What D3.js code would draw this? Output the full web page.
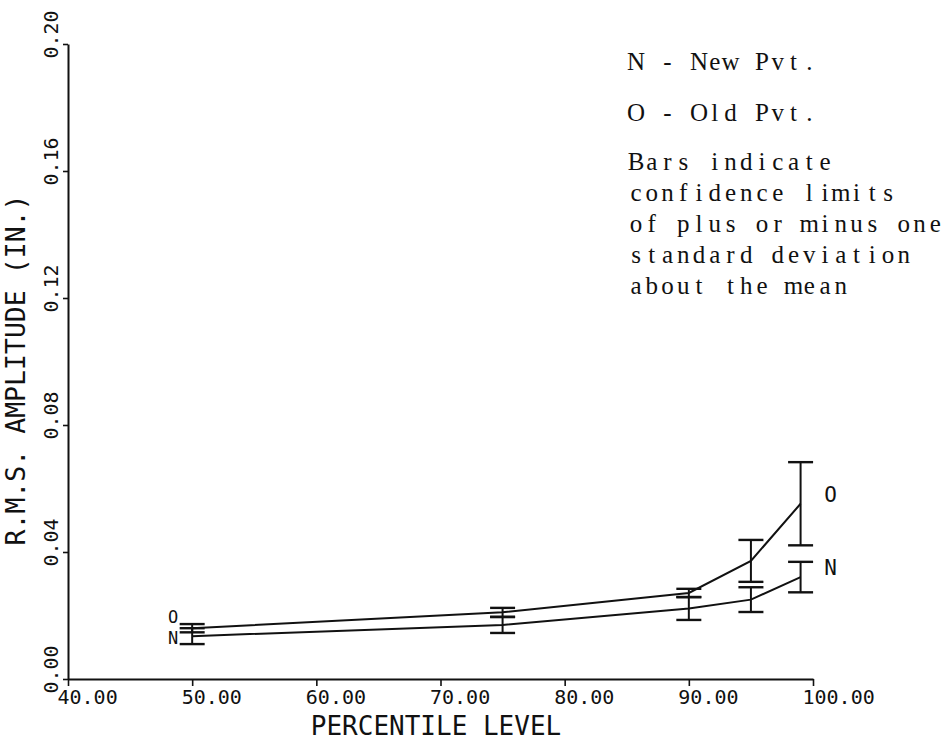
<!DOCTYPE html>
<html>
<head>
<meta charset="utf-8">
<script src="https://cdn.jsdelivr.net/npm/d3@7"></script>
<style>
  body { margin: 0; background: #fff; }
  .plotter { font-family: "DejaVu Sans Mono", monospace; fill: #111; }
  .typed { font-family: "Liberation Serif", "DejaVu Serif", serif; fill: #111; }
</style>
</head>
<body>
<svg id="chart" width="949" height="741"></svg>
<script>
// Percentile levels at which the RMS amplitude was evaluated
const percentiles = [50, 75, 90, 95, 99];

// Old pavement: mean RMS amplitude (in.) and one standard deviation
const oldMean = [0.0160, 0.0210, 0.0271, 0.0372, 0.0552];
const oldSd   = [0.0013, 0.0014, 0.0013, 0.0066, 0.0131];

// New pavement: mean RMS amplitude (in.) and one standard deviation
const newMean = [0.0135, 0.0170, 0.0222, 0.0250, 0.0321];
const newSd   = [0.0025, 0.0025, 0.0036, 0.0039, 0.0048];

// Axis ticks
const xTicks = [40, 50, 60, 70, 80, 90, 100];
const yTicks = [0.00, 0.04, 0.08, 0.12, 0.16, 0.20];

// Typewritten key
const keyLines = [
  "N - New Pvt.",
  "O - Old Pvt.",
  "Bars indicate",
  "confidence limits",
  "of plus or minus one",
  "standard deviation",
  "about the mean"
];

const svg = d3.select("#chart");

const x = d3.scaleLinear().domain([40, 100]).range([68, 813]);
const y = d3.scaleLinear().domain([0, 0.20]).range([679, 44]);

// ---- axes ----
const xAxis = svg.append("g")
  .attr("transform", `translate(0,${y(0)})`)
  .call(d3.axisBottom(x).tickValues(xTicks).tickSize(7).tickSizeOuter(0)
    .tickFormat(d3.format(".2f")));
xAxis.select(".domain").attr("stroke", "#111").attr("stroke-width", 2);
xAxis.selectAll(".tick line").attr("stroke", "#111").attr("stroke-width", 1.6);
xAxis.selectAll(".tick text")
  .attr("class", "plotter")
  .attr("x", -11).attr("y", 25).attr("dy", null)
  .attr("text-anchor", "start")
  .style("font-size", "20px");

const yAxis = svg.append("g")
  .attr("transform", `translate(${x(40)},0)`)
  .call(d3.axisLeft(y).tickValues(yTicks).tickSize(5).tickSizeOuter(0)
    .tickFormat(d3.format(".2f")));
yAxis.select(".domain").attr("stroke", "#111").attr("stroke-width", 2);
yAxis.selectAll(".tick line").attr("stroke", "#111").attr("stroke-width", 1.6);
yAxis.selectAll(".tick text")
  .attr("class", "plotter")
  .attr("x", null).attr("dy", null)
  .attr("text-anchor", "middle")
  .attr("dominant-baseline", "central")
  .attr("transform", "translate(-17,-10) rotate(-90)")
  .style("font-size", "20px");

// Axis titles
svg.append("text")
  .attr("class", "plotter")
  .attr("x", 436).attr("y", 735)
  .attr("text-anchor", "middle")
  .style("font-size", "26px")
  .text("PERCENTILE LEVEL");

svg.append("text")
  .attr("class", "plotter")
  .attr("transform", "translate(25,370) rotate(-90)")
  .attr("text-anchor", "middle")
  .style("font-size", "26.5px")
  .text("R.M.S. AMPLITUDE (IN.)");

// ---- series ----
const series = [
  { code: "O", mean: oldMean, sd: oldSd, dyStart: -5 },
  { code: "N", mean: newMean, sd: newSd, dyStart: 8 }
];

const line = d3.line().x(d => x(d.p)).y(d => y(d.m));
const capHalf = 12.5;

series.forEach(s => {
  const pts = percentiles.map((p, i) => ({ p, m: s.mean[i], sd: s.sd[i] }));
  const g = svg.append("g");

  g.append("path")
    .datum(pts)
    .attr("fill", "none")
    .attr("stroke", "#111")
    .attr("stroke-width", 2)
    .attr("d", line);

  const bars = g.selectAll(".bar").data(pts).enter().append("g");
  bars.append("line")
    .attr("x1", d => x(d.p)).attr("x2", d => x(d.p))
    .attr("y1", d => y(d.m + d.sd)).attr("y2", d => y(d.m - d.sd))
    .attr("stroke", "#111").attr("stroke-width", 2);
  [1, -1].forEach(sign => {
    bars.append("line")
      .attr("x1", d => x(d.p) - capHalf).attr("x2", d => x(d.p) + capHalf)
      .attr("y1", d => y(d.m + sign * d.sd)).attr("y2", d => y(d.m + sign * d.sd))
      .attr("stroke", "#111").attr("stroke-width", 2.4);
  });

  // Series codes at both ends of the curve
  const first = pts[0], last = pts[pts.length - 1];
  g.append("text")
    .attr("class", "plotter")
    .attr("x", x(first.p) - 19).attr("y", y(first.m) + s.dyStart)
    .attr("text-anchor", "middle")
    .style("font-size", "17px")
    .text(s.code);
  g.append("text")
    .attr("class", "plotter")
    .attr("x", x(last.p) + 30).attr("y", y(last.m) - 2)
    .attr("text-anchor", "middle")
    .style("font-size", "21px")
    .text(s.code);
});

// ---- typewritten key (fixed-pitch cells) ----
const pitch = 15.75;
const keyX = 636;
const keyBaselines = [70, 121, 170, 201, 232, 263, 294];
const key = svg.append("g");
keyLines.forEach((str, li) => {
  const chars = Array.from(str);
  key.append("text")
    .attr("class", "typed")
    .attr("x", chars.map((c, i) => (keyX + i * pitch).toFixed(2)).join(" "))
    .attr("y", keyBaselines[li])
    .attr("text-anchor", "middle")
    .style("font-size", "25px")
    .text(str);
});
</script>
</body>
</html>
